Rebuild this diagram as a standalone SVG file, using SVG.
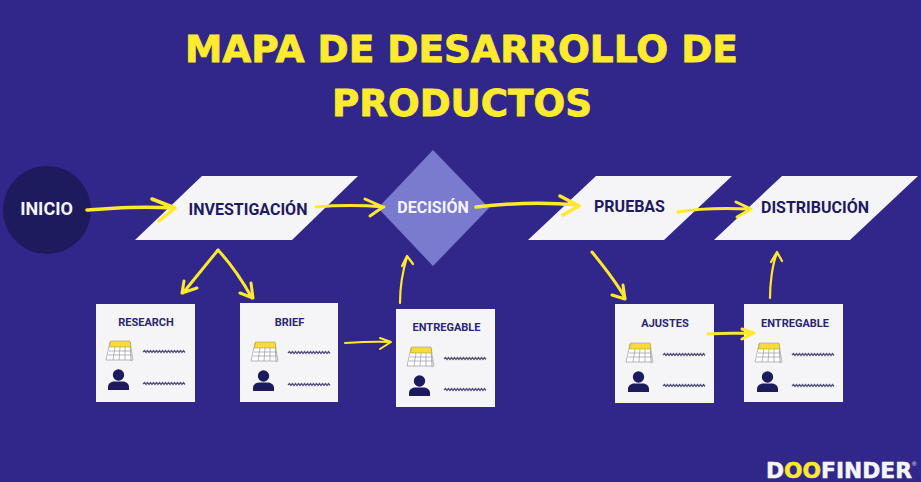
<svg xmlns="http://www.w3.org/2000/svg" xmlns:xlink="http://www.w3.org/1999/xlink" width="921" height="482" viewBox="0 0 921 482">
<style>
.title{font-family:"DejaVu Sans",sans-serif;font-weight:700;font-size:37px;fill:#FFEB2E;stroke:#FFEB2E;stroke-width:.8}
.lbl{font-family:Roboto,"Liberation Sans",sans-serif;font-weight:700;font-size:16px;text-anchor:middle}
.dark{fill:#1E1A5E}
.white{fill:#F5F5F7}
.sm{font-family:Roboto,"Liberation Sans",sans-serif;font-weight:700;font-size:11px;text-anchor:middle;fill:#2A2570}
.card{fill:#F5F5F7}
.arrow{fill:none;stroke:#FFE92E;stroke-width:3;stroke-linecap:round;stroke-linejoin:round}
.sq{fill:none;stroke:#55527F;stroke-width:1.300}
.cal{fill:#fff;stroke:#9a9aa5;stroke-width:.7}
</style>
<defs>
<g id="calendar">
<path class="cal" d="M24 2 L27 19 L25 20 Z"/>
<path class="cal" d="M4 1 H24 L25 19 H0 Z"/>
<path d="M4.500 0 H24 L25 6 H3.500 Z" fill="#F6DC3A" stroke="#9a8f3a" stroke-width=".5"/>
<path d="M3 10 H25 M2 14 H26 M9 6 L7 19 M14 6 L13 19 M19 6 L19 19" fill="none" stroke="#9a9aa5" stroke-width=".7"/>
</g>
<g id="person">
<circle cx="10.500" cy="6" r="5.700" fill="#1E1A5E"/>
<path d="M0 21 V18 C0 14 4 12.500 6 12.500 H15 C17 12.500 21 14 21 18 V21 Z" fill="#1E1A5E"/>
</g>
<path id="squig" class="sq" d="M0 0 l1.500 -1.500 l1.500 2 l1.500 -2 l1.500 2 l1.500 -2 l1.500 2 l1.500 -2 l1.500 2 l1.500 -2 l1.500 2 l1.500 -2 l1.500 2 l1.500 -2 l1.500 2 l1.500 -2 l1.500 2 l1.500 -2 l1.500 2 l1.500 -2 l1.500 2 l1.500 -2 l1.500 2 l1.500 -2 l1.500 2 l1.500 -2 l1.500 2 l1.500 -2 l1.500 2"/>
</defs>
<rect width="921" height="482" fill="#312689"/>
<text class="title" x="185" y="62" textLength="553" lengthAdjust="spacingAndGlyphs">MAPA DE DESARROLLO DE</text>
<text class="title" x="332" y="116" textLength="260" lengthAdjust="spacingAndGlyphs">PRODUCTOS</text>

<g id="inicio"><circle cx="47" cy="210" r="44" fill="#1E1A5E"/><text class="lbl white" x="46.500" y="215" style="font-size:18px">INICIO</text></g>
<g id="investigacion"><polygon points="135,240 202,176 358,176 292,240" fill="#F5F5F7"/><text class="lbl dark" x="248" y="215">INVESTIGACIÓN</text></g>
<g id="decision"><polygon points="433,150 489,208 433,266 378,208" fill="#7A7BCF"/><text class="lbl white" x="433" y="213">DECISIÓN</text></g>
<g id="pruebas"><polygon points="528,240 596,176 732,176 664,240" fill="#F5F5F7"/><text class="lbl dark" x="629.500" y="212">PRUEBAS</text></g>
<g id="distribucion"><polygon points="714,240 782,176 918,176 850,240" fill="#F5F5F7"/><text class="lbl dark" x="815" y="213">DISTRIBUCIÓN</text></g>

<g id="research"><rect class="card" x="96" y="304" width="99" height="98"/><text class="sm" x="146" y="326">RESEARCH</text><use xlink:href="#calendar" x="106" y="341"/><use xlink:href="#squig" x="143" y="352"/><use xlink:href="#person" x="108" y="369"/><use xlink:href="#squig" x="143" y="384"/></g>
<g id="brief"><rect class="card" x="240" y="303" width="98" height="99"/><text class="sm" x="289.500" y="326">BRIEF</text><use xlink:href="#calendar" x="251" y="342"/><use xlink:href="#squig" x="288" y="353"/><use xlink:href="#person" x="253" y="370"/><use xlink:href="#squig" x="288" y="385"/></g>
<g id="entregable1"><rect class="card" x="396" y="309" width="99" height="98"/><text class="sm" x="446.500" y="331">ENTREGABLE</text><use xlink:href="#calendar" x="407" y="347"/><use xlink:href="#squig" x="444" y="359"/><use xlink:href="#person" x="409" y="375"/><use xlink:href="#squig" x="444" y="390"/></g>
<g id="ajustes"><rect class="card" x="615" y="304" width="99" height="99"/><text class="sm" x="665" y="327">AJUSTES</text><use xlink:href="#calendar" x="626" y="343"/><use xlink:href="#squig" x="663" y="355"/><use xlink:href="#person" x="628" y="371"/><use xlink:href="#squig" x="663" y="386"/></g>
<g id="entregable2"><rect class="card" x="744" y="304" width="99" height="98"/><text class="sm" x="795" y="327">ENTREGABLE</text><use xlink:href="#calendar" x="755" y="343"/><use xlink:href="#squig" x="792" y="355"/><use xlink:href="#person" x="757" y="371"/><use xlink:href="#squig" x="792" y="386"/></g>

<g id="connectors">
<path class="arrow" style="stroke-width:3.500" d="M87 210 C115 208 140 206 173 208 M152 199 L175 208 L159 221"/>
<path class="arrow" d="M316 207 C340 205 360 205 384 207 M365 199 L383 207 L370 216"/>
<path class="arrow" style="stroke-width:3.500" d="M476 207 C510 203 545 202 578 205 M560 196 L579 206 L563 215"/>
<path class="arrow" d="M678 212 C700 208 725 208 750 209 M736 202 L751 209 L737 217"/>
<path class="arrow" d="M218 250 L183 293 M184 281 L182 293 L197 288"/>
<path class="arrow" d="M218 250 C232 265 242 280 252 298 M240 293 L253 298 L251 283"/>
<path class="arrow" style="stroke-width:2" d="M345 343 C360 342 375 341 391 342 M380 338 L391 342 L380 349"/>
<path class="arrow" style="stroke-width:2.200" d="M400 303 C400 285 403 270 407 257 M402 266 L407 256 L413 264"/>
<path class="arrow" d="M592 252 C605 268 617 283 625 298 M612 295 L625 299 L623 285"/>
<path class="arrow" d="M708 334 C722 333 736 333 753 333 M742 329 L754 333 L742 339"/>
<path class="arrow" style="stroke-width:2.200" d="M770 298 C770 285 772 265 777 253 M771 262 L777 252 L782 261"/>
</g>

<g id="logo">
<text x="766" y="478" font-family="DejaVu Sans,sans-serif" font-weight="700" font-size="21" fill="#F5F5F7" stroke="#F5F5F7" stroke-width=".5" textLength="146" lengthAdjust="spacingAndGlyphs">D<tspan fill="#FFE92E" stroke="#FFE92E">OO</tspan>FINDER</text>
<text x="912" y="466" font-family="Liberation Sans,sans-serif" font-size="6" fill="#F5F5F7">®</text>
</g>
</svg>
